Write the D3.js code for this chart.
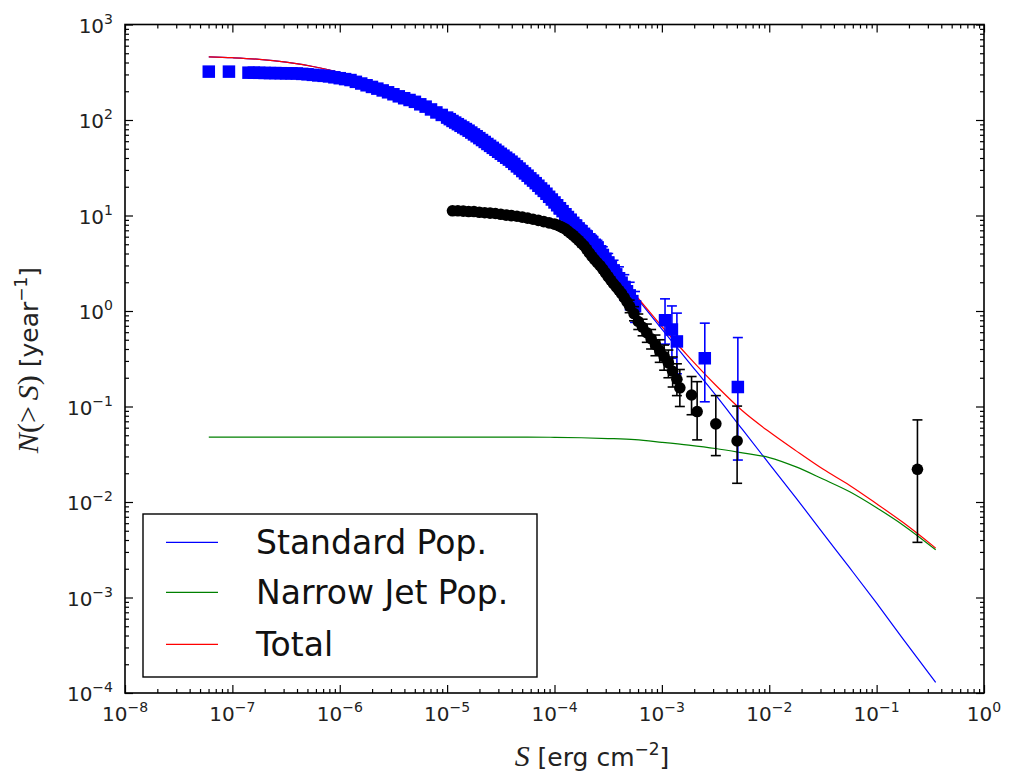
<!DOCTYPE html>
<html><head><meta charset="utf-8">
<script src="https://cdn.jsdelivr.net/npm/d3@7"></script>
<style>body{margin:0;background:#fff}svg{display:block}</style>
</head><body><svg id="c" width="1010" height="774"></svg>
<script>
// ---------- data ----------
const xExponents = [-8, -7, -6, -5, -4, -3, -2, -1, 0];
const yExponents = [-4, -3, -2, -1, 0, 1, 2, 3];
const legendLabels = ["Standard Pop.", "Narrow Jet Pop.", "Total"];

// model curves
const modelS = [6.03e-8, 1e-7, 1.78e-7, 3.16e-7, 5.62e-7, 1e-6, 1.78e-6, 3.16e-6, 5.62e-6, 1e-5,
  1.78e-5, 3.16e-5, 5.62e-5, 1e-4, 1.78e-4, 3.16e-4, 5.62e-4, 1e-3, 1.78e-3, 3.16e-3,
  5.62e-3, 1e-2, 1.78e-2, 3.16e-2, 5.62e-2, 0.1, 0.178, 0.355];
const standardPop = [459, 449, 432, 403, 363, 313, 254, 197, 148, 106,
  70.8, 44.7, 26.3, 14.1, 6.92, 3.20, 1.45, 0.646, 0.292, 0.132,
  0.0575, 0.0251, 0.0110, 0.00473, 0.00204, 8.71e-4, 3.63e-4, 1.29e-4];
const narrowJetPop = [0.0479, 0.0479, 0.0479, 0.0479, 0.0479, 0.0479, 0.0479, 0.0479, 0.0479, 0.0479,
  0.0479, 0.0479, 0.0479, 0.0476, 0.0471, 0.0462, 0.0449, 0.0422, 0.0394, 0.0363,
  0.0327, 0.0292, 0.0233, 0.0174, 0.0128, 0.00871, 0.00569, 0.00316];
const totalPop = [459, 449, 432, 403, 363, 313, 254, 197, 148, 106,
  70.8, 44.7, 26.3, 14.2, 6.97, 3.25, 1.49, 0.688, 0.331, 0.168,
  0.0902, 0.0543, 0.0343, 0.0221, 0.0149, 0.00958, 0.00605, 0.00329];

// blue squares (simulated standard population)
const blueS = [6.03e-8, 9.29e-8,
  1.413e-7, 1.585e-7, 1.778e-7, 1.995e-7, 2.239e-7, 2.512e-7, 2.818e-7, 3.162e-7, 3.548e-7, 3.981e-7,
  4.467e-7, 5.012e-7, 5.623e-7, 6.310e-7, 7.079e-7, 7.943e-7, 8.913e-7,
  1e-6, 1.122e-6, 1.259e-6, 1.413e-6, 1.585e-6, 1.778e-6, 1.995e-6, 2.239e-6, 2.512e-6, 2.818e-6,
  3.162e-6, 3.548e-6, 3.981e-6, 4.467e-6, 5.012e-6, 5.623e-6, 6.310e-6, 7.079e-6, 7.943e-6, 8.913e-6,
  1.000e-5, 1.059e-5, 1.122e-5, 1.189e-5, 1.259e-5, 1.334e-5, 1.413e-5, 1.496e-5, 1.585e-5, 1.679e-5,
  1.778e-5, 1.884e-5, 1.995e-5, 2.113e-5, 2.239e-5, 2.371e-5, 2.512e-5, 2.661e-5, 2.818e-5, 2.985e-5,
  3.162e-5, 3.350e-5, 3.548e-5, 3.758e-5, 3.981e-5, 4.217e-5, 4.467e-5, 4.732e-5, 5.012e-5, 5.309e-5,
  5.623e-5, 5.957e-5, 6.310e-5, 6.683e-5, 7.079e-5, 7.499e-5, 7.943e-5, 8.414e-5, 8.913e-5, 9.441e-5,
  1.000e-4, 1.059e-4, 1.122e-4, 1.189e-4, 1.259e-4, 1.334e-4, 1.413e-4, 1.496e-4, 1.585e-4, 1.679e-4,
  1.778e-4, 1.884e-4, 1.995e-4, 2.113e-4, 2.239e-4, 2.371e-4, 2.512e-4, 2.661e-4, 2.818e-4, 2.985e-4,
  3.162e-4, 3.350e-4, 3.548e-4, 3.758e-4, 3.981e-4, 4.217e-4, 4.467e-4, 4.732e-4, 5.012e-4, 5.309e-4];
const blueN = [321, 321,
  313, 313, 312, 311, 310, 310, 309, 308, 308, 307,
  304, 301, 297, 293, 290, 286, 280,
  274, 268, 262, 251, 241, 231, 222, 213, 204, 195,
  186, 177, 169, 162, 155, 146, 138, 129, 120, 113,
  106, 102, 97.7, 94.0, 90.4, 86.9, 83.6, 80.4, 77.3, 73.9,
  70.6, 67.6, 64.6, 61.7, 58.9, 56.1, 53.6, 51.1, 48.8, 46.5,
  44.3, 42.3, 40.3, 38.5, 36.6, 34.7, 32.7, 31.0, 29.2, 27.6,
  26.1, 24.5, 23.2, 21.8, 20.5, 19.2, 18.1, 16.9, 15.7, 14.7,
  13.7, 12.8, 11.9, 11.1, 10.3, 9.64, 8.99, 8.38, 7.82, 7.33,
  6.85, 6.43, 6.01, 5.64, 5.27, 4.94, 4.62, 4.22, 3.85, 3.52,
  3.21, 2.92, 2.65, 2.42, 2.20, 1.98, 1.78, 1.61, 1.45, 1.27];
const blueErrS = [1.122e-4, 1.259e-4, 1.413e-4, 1.585e-4, 1.778e-4, 1.995e-4, 2.239e-4, 2.512e-4, 2.818e-4, 3.162e-4,
  3.548e-4, 3.981e-4, 4.467e-4, 5.012e-4, 5.623e-4, 1.07e-3, 1.24e-3, 1.38e-3, 2.51e-3, 5.1e-3];
const blueErrN = [11.9, 10.3, 8.99, 7.82, 6.85, 6.01, 5.27, 4.62, 3.85, 3.21,
  2.65, 2.20, 1.78, 1.45, 1.12, 0.80, 0.64, 0.48, 0.32, 0.16];
const blueErrLo = [10.6, 9.1, 7.9, 6.8, 5.9, 5.1, 4.4, 3.8, 3.1, 2.55,
  2.05, 1.65, 1.3, 1.03, 0.76, 0.45, 0.32, 0.22, 0.112, 0.0275];
const blueErrHi = [13.3, 11.6, 10.2, 8.9, 7.9, 7.0, 6.2, 5.5, 4.7, 4.0,
  3.4, 2.9, 2.4, 2.0, 1.6, 1.34, 1.13, 0.95, 0.746, 0.527];

// black circles (observed)
const blackS = [1.122e-5, 1.259e-5, 1.413e-5, 1.585e-5, 1.778e-5, 1.995e-5, 2.239e-5, 2.512e-5, 2.818e-5, 3.162e-5,
  3.548e-5, 3.981e-5, 4.467e-5, 5.012e-5, 5.623e-5, 6.310e-5, 7.079e-5, 7.943e-5, 8.913e-5, 1.000e-4,
  1.059e-4, 1.122e-4, 1.189e-4, 1.259e-4, 1.334e-4, 1.413e-4, 1.496e-4, 1.585e-4, 1.679e-4, 1.778e-4,
  1.884e-4, 1.995e-4, 2.113e-4, 2.239e-4, 2.371e-4, 2.512e-4, 2.661e-4, 2.818e-4, 2.985e-4, 3.162e-4,
  3.350e-4, 3.548e-4, 3.758e-4, 3.981e-4, 4.217e-4, 4.467e-4, 4.732e-4];
const blackN = [11.2, 11.2, 11.1, 11.0, 11.0, 10.8, 10.7, 10.6, 10.5, 10.3,
  10.1, 9.98, 9.82, 9.62, 9.38, 9.14, 8.89, 8.63, 8.38, 8.13,
  7.96, 7.73, 7.48, 7.23, 6.86, 6.52, 6.19, 5.83, 5.50, 5.14,
  4.82, 4.42, 4.05, 3.72, 3.44, 3.20, 2.98, 2.75, 2.51, 2.29,
  2.10, 1.93, 1.79, 1.65, 1.52, 1.38, 1.25];
const blackErrS = [5.01e-4, 5.50e-4, 6.03e-4, 6.61e-4, 7.24e-4, 7.94e-4, 8.71e-4, 9.55e-4, 1.05e-3, 1.15e-3,
  1.26e-3, 1.38e-3, 1.47e-3, 1.89e-3, 2.13e-3, 3.18e-3, 5.02e-3, 0.24];
const blackErrN = [1.12, 0.94, 0.776, 0.676, 0.592, 0.512, 0.443, 0.384, 0.333, 0.286,
  0.234, 0.193, 0.157, 0.132, 0.0885, 0.0658, 0.0436, 0.0220];
const blackErrLo = [0.96, 0.79, 0.64, 0.55, 0.47, 0.40, 0.34, 0.29, 0.24, 0.20,
  0.16, 0.13, 0.100, 0.082, 0.0447, 0.0306, 0.0157, 0.00378];
const blackErrHi = [1.30, 1.11, 0.93, 0.82, 0.73, 0.64, 0.56, 0.50, 0.44, 0.39,
  0.33, 0.28, 0.244, 0.206, 0.182, 0.130, 0.101, 0.0724];

// ---------- layout ----------
const L = 125, R = 984, T = 24.5, B = 693;
const svg = d3.select("#c");
const x = d3.scaleLog().domain([1e-8, 1]).range([L, R]);
const y = d3.scaleLog().domain([1e-4, 1e3]).range([B, T]);
const sansFont = "DejaVu Sans, sans-serif";
const serifFont = "Liberation Serif, DejaVu Serif, serif";

const minorOf = (exps) => {
  const out = [];
  for (let i = 0; i < exps.length - 1; i++)
    for (let m = 2; m <= 9; m++) out.push(m * Math.pow(10, exps[i]));
  return out;
};
const xMaj = xExponents.map(e => Math.pow(10, e));
const yMaj = yExponents.map(e => Math.pow(10, e));
const xMin = minorOf(xExponents), yMin = minorOf(yExponents);

svg.append("defs").append("clipPath").attr("id", "clip")
  .append("rect").attr("x", L).attr("y", T).attr("width", R - L).attr("height", B - T);

// ---------- lines ----------
const plot = svg.append("g").attr("clip-path", "url(#clip)");
const lineGen = (vals) => d3.line()
  .x((d, i) => x(modelS[i])).y(d => y(d)).curve(d3.curveMonotoneX)(vals);
[[standardPop, "#0000ff"], [narrowJetPop, "#008000"], [totalPop, "#ff0000"]].forEach(([v, c]) => {
  plot.append("path").attr("d", lineGen(v)).attr("fill", "none")
    .attr("stroke", c).attr("stroke-width", 1.2);
});

// ---------- error bars helper ----------
function errBars(g, S, lo, hi, color) {
  S.forEach((s, i) => {
    const cx = x(s);
    g.append("line").attr("x1", cx).attr("x2", cx).attr("y1", y(lo[i])).attr("y2", y(hi[i]))
      .attr("stroke", color).attr("stroke-width", 1.6);
    [lo[i], hi[i]].forEach(v => {
      g.append("line").attr("x1", cx - 5).attr("x2", cx + 5).attr("y1", y(v)).attr("y2", y(v))
        .attr("stroke", color).attr("stroke-width", 1.6);
    });
  });
}

// ---------- blue squares ----------
const sq = 12.5;
const gBlue = plot.append("g");
errBars(gBlue, blueErrS, blueErrLo, blueErrHi, "#0000ff");
const square = (g, s, n) => g.append("rect").attr("x", x(s) - sq / 2).attr("y", y(n) - sq / 2)
  .attr("width", sq).attr("height", sq).attr("fill", "#0000ff");
blueS.forEach((s, i) => square(gBlue, s, blueN[i]));
blueErrS.forEach((s, i) => square(gBlue, s, blueErrN[i]));

// ---------- black circles ----------
const gBlack = plot.append("g");
errBars(gBlack, blackErrS, blackErrLo, blackErrHi, "#000000");
blackS.forEach((s, i) => {
  gBlack.append("circle").attr("cx", x(s)).attr("cy", y(blackN[i])).attr("r", 5.8).attr("fill", "#000");
});
blackErrS.forEach((s, i) => {
  gBlack.append("circle").attr("cx", x(s)).attr("cy", y(blackErrN[i])).attr("r", 5.8).attr("fill", "#000");
});

// ---------- axes (inward ticks on all sides) ----------
function addAxis(axisFn, scale, values, size, transform) {
  svg.append("g").attr("transform", transform)
    .call(axisFn(scale).tickValues(values).tickSizeInner(-size).tickSizeOuter(0).tickFormat(""))
    .call(g => g.select(".domain").remove())
    .call(g => g.selectAll("line").attr("stroke", "#000").attr("stroke-width", 1.2));
}
addAxis(d3.axisBottom, x, xMaj, 8, `translate(0,${B})`);
addAxis(d3.axisBottom, x, xMin, 4, `translate(0,${B})`);
addAxis(d3.axisTop, x, xMaj, 8, `translate(0,${T})`);
addAxis(d3.axisTop, x, xMin, 4, `translate(0,${T})`);
addAxis(d3.axisLeft, y, yMaj, 8, `translate(${L},0)`);
addAxis(d3.axisLeft, y, yMin, 4, `translate(${L},0)`);
addAxis(d3.axisRight, y, yMaj, 8, `translate(${R},0)`);
addAxis(d3.axisRight, y, yMin, 4, `translate(${R},0)`);

svg.append("rect").attr("x", L).attr("y", T).attr("width", R - L).attr("height", B - T)
  .attr("fill", "none").attr("stroke", "#000").attr("stroke-width", 1.6);

const expText = e => (e < 0 ? "\u2212" + Math.abs(e) : String(e));

// x tick labels
xExponents.forEach(e => {
  const t = svg.append("text").attr("x", x(Math.pow(10, e))).attr("y", 721)
    .attr("text-anchor", "middle").attr("font-family", sansFont).attr("font-size", 20).attr("fill", "#222");
  t.append("tspan").text("10");
  t.append("tspan").attr("dy", -9).attr("font-size", 14).text(expText(e));
});
// y tick labels
yExponents.forEach(e => {
  const t = svg.append("text").attr("x", 113).attr("y", y(Math.pow(10, e)) + 8)
    .attr("text-anchor", "end").attr("font-family", sansFont).attr("font-size", 20).attr("fill", "#222");
  t.append("tspan").text("10");
  t.append("tspan").attr("dy", -9).attr("font-size", 14).text(expText(e));
});

// x title
{
  const t = svg.append("text").attr("x", 592).attr("y", 766).attr("text-anchor", "middle")
    .attr("font-family", sansFont).attr("font-size", 25).attr("fill", "#222");
  t.append("tspan").attr("font-family", serifFont).attr("font-style", "italic").attr("font-size", 30).text("S");
  t.append("tspan").text(" [erg cm");
  t.append("tspan").attr("dy", -11).attr("font-size", 17).text("\u22122");
  t.append("tspan").attr("dy", 11).text("]");
}
// y title
{
  const t = svg.append("text").attr("transform", "translate(38,360) rotate(-90)")
    .attr("text-anchor", "middle").attr("font-family", sansFont).attr("font-size", 25).attr("fill", "#222");
  t.append("tspan").attr("font-family", serifFont).attr("font-style", "italic").attr("font-size", 30).text("N");
  t.append("tspan").attr("font-family", serifFont).attr("font-size", 30).text("(>\u2009");
  t.append("tspan").attr("font-family", serifFont).attr("font-style", "italic").attr("font-size", 30).text("S");
  t.append("tspan").attr("font-family", serifFont).attr("font-size", 30).text(")");
  t.append("tspan").text(" [year");
  t.append("tspan").attr("dy", -11).attr("font-size", 17).text("\u22121");
  t.append("tspan").attr("dy", 11).text("]");
}

// legend
const lg = svg.append("g");
lg.append("rect").attr("x", 143).attr("y", 514).attr("width", 394).attr("height", 163)
  .attr("fill", "#fff").attr("stroke", "#000").attr("stroke-width", 1.4);
const legColors = ["#0000ff", "#008000", "#ff0000"];
const legLineY = [542.3, 592.3, 644.3];
legendLabels.forEach((lab, i) => {
  lg.append("line").attr("x1", 166).attr("x2", 218).attr("y1", legLineY[i]).attr("y2", legLineY[i])
    .attr("stroke", legColors[i]).attr("stroke-width", 1.2);
  lg.append("text").attr("x", 256).attr("y", legLineY[i] + 11.5).attr("font-family", sansFont)
    .attr("font-size", 33).attr("fill", "#111").text(lab);
});
</script></body></html>
